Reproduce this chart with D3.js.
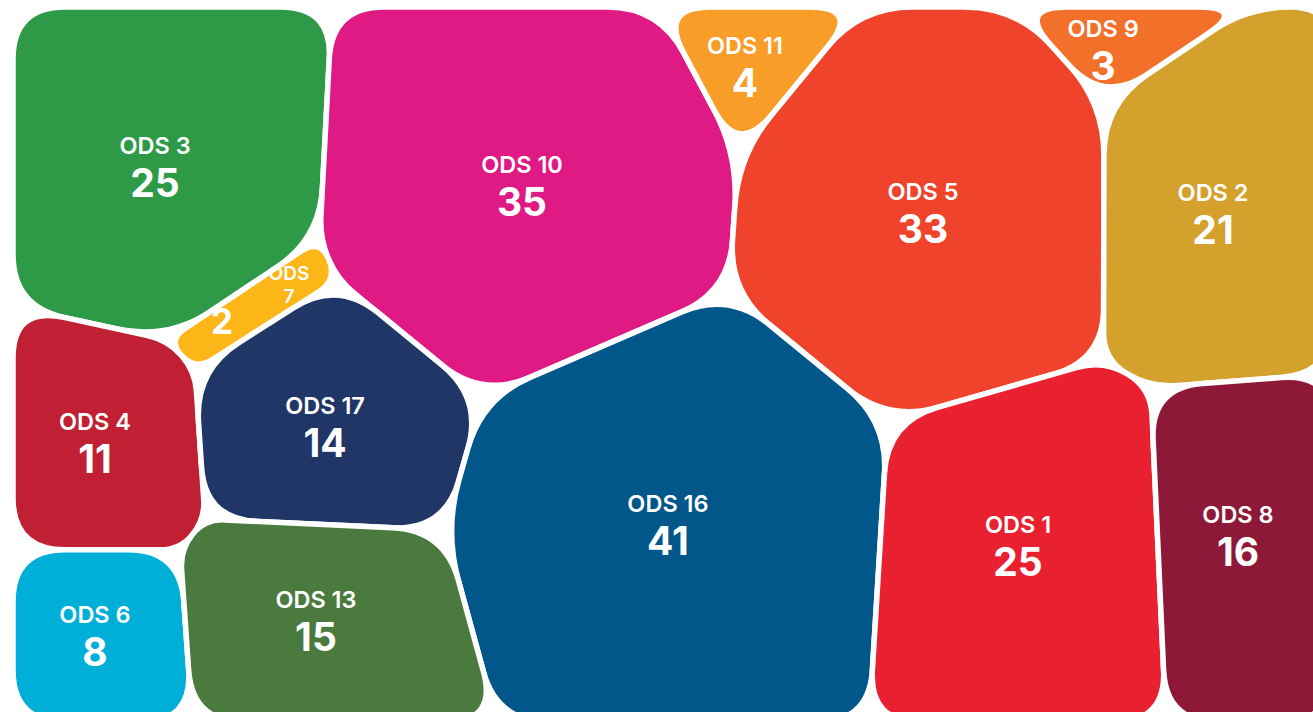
<!DOCTYPE html>
<html>
<head>
<meta charset="utf-8">
<script src="https://cdn.jsdelivr.net/npm/d3@7"></script>
<style>
html, body { margin: 0; padding: 0; background: #fff; }
svg { display: block; }
text { font-family: Inter, "Noto Sans", sans-serif; fill: #fff; text-anchor: middle; }
</style>
</head>
<body>
<svg id="chart" width="1313" height="712"></svg>
<script>
var goals  = ["ODS 3", "ODS 10", "ODS 11", "ODS 5", "ODS 9", "ODS 2", "ODS 7",
              "ODS 4", "ODS 17", "ODS 16", "ODS 1", "ODS 8", "ODS 6", "ODS 13"];
var counts = [25, 35, 4, 33, 3, 21, 2, 11, 14, 41, 25, 16, 8, 15];
var colors = ["#2e9a48", "#df1a84", "#f89d27", "#ef432b", "#f3702b", "#d4a12c", "#fdb618",
              "#c12034", "#203667", "#015789", "#e8202f", "#8e1838", "#00afd8", "#4b7a3e"];

// layout hints: where each cell's site (and its label) sits, as fractions of the drawing area
var seedX = [0.1076, 0.3856, 0.5545, 0.6894, 0.8258, 0.9091, 0.178, 0.0621, 0.2364, 0.4962, 0.7614, 0.9280, 0.0621, 0.2295];
var seedY = [0.2189, 0.2462, 0.0797, 0.2846, 0.0559, 0.2853, 0.414, 0.6049, 0.5832, 0.7196, 0.7497, 0.7357, 0.8762, 0.8545];

var svg = d3.select("#chart");
var x = d3.scaleLinear().domain([0, 1]).range([13, 1333]);
var y = d3.scaleLinear().domain([0, 1]).range([7, 722]);

var X = x.range(), Y = y.range();
var box = [[X[0], Y[0], -1], [X[1], Y[0], -1], [X[1], Y[1], -1], [X[0], Y[1], -1]];
var total = d3.sum(counts);
var boxArea = (X[1] - X[0]) * (Y[1] - Y[0]);
var target = counts.map(function(v) { return v / total * boxArea; });
var sites = seedX.map(function(s, i) { return [x(s), y(seedY[i])]; });

function dist(a, b) { return Math.hypot(a[0] - b[0], a[1] - b[1]); }

// keep the part of poly where a*px + b*py <= c; each vertex carries the id of the
// neighbour that owns the edge starting at it (-1 for the outer box)
function clip(poly, a, b, c, id) {
    var out = [];
    for (var k = 0; k < poly.length; k++) {
        var P = poly[k], Q = poly[(k + 1) % poly.length];
        var fp = a * P[0] + b * P[1] - c, fq = a * Q[0] + b * Q[1] - c;
        if (fp <= 0) out.push(P);
        if ((fp < 0 && fq > 0) || (fp > 0 && fq < 0)) {
            var t = fp / (fp - fq);
            out.push([P[0] + t * (Q[0] - P[0]), P[1] + t * (Q[1] - P[1]), fp < 0 ? id : P[2]]);
        }
    }
    return out;
}

// power diagram of the weighted sites, clipped to the box
function powerCells(weights) {
    return sites.map(function(p, i) {
        var poly = box;
        sites.forEach(function(q, j) {
            if (i === j || poly.length === 0) return;
            poly = clip(poly, 2 * (q[0] - p[0]), 2 * (q[1] - p[1]),
                q[0] * q[0] + q[1] * q[1] - p[0] * p[0] - p[1] * p[1] - weights[j] + weights[i], j);
        });
        return poly;
    });
}

// tune the weights until every cell gets the area of its value
var weights = counts.map(function() { return 0; });
var cells;
for (var it = 0; it < 1500; it++) {
    cells = powerCells(weights);
    cells.forEach(function(poly, i) {
        if (poly.length < 3) { weights[i] += 500; return; }
        var area = Math.abs(d3.polygonArea(poly)), slope = 0;
        poly.forEach(function(v, k) {
            if (v[2] < 0) return;
            slope += dist(v, poly[(k + 1) % poly.length]) / (2 * dist(sites[i], sites[v[2]]));
        });
        if (slope > 0) weights[i] += 0.5 * (target[i] - area) / slope;
    });
}
cells = powerCells(weights);

// merge very short edges so every corner can be rounded
function tidy(poly) {
    var pts = poly.map(function(p) { return [p[0], p[1]]; });
    var changed = true;
    while (changed && pts.length > 3) {
        changed = false;
        for (var k = 0; k < pts.length; k++) {
            var a = pts[k], b = pts[(k + 1) % pts.length];
            if (dist(a, b) < 14) {
                pts[k] = [(a[0] + b[0]) / 2, (a[1] + b[1]) / 2];
                pts.splice((k + 1) % pts.length, 1);
                changed = true;
                break;
            }
        }
    }
    return pts;
}

function roundedPath(poly, maxD) {
    var pts = tidy(poly), n = pts.length, path = d3.path();
    pts.forEach(function(V, k) {
        var P = pts[(k - 1 + n) % n], N = pts[(k + 1) % n];
        var l1 = dist(P, V), l2 = dist(V, N);
        var d = Math.min(maxD, l1 / 2, l2 / 2);
        var ax = V[0] + (P[0] - V[0]) * d / l1, ay = V[1] + (P[1] - V[1]) * d / l1;
        if (k === 0) path.moveTo(ax, ay); else path.lineTo(ax, ay);
        path.quadraticCurveTo(V[0], V[1], V[0] + (N[0] - V[0]) * d / l2, V[1] + (N[1] - V[1]) * d / l2);
    });
    path.closePath();
    return path.toString();
}

var nodes = goals.map(function(g, i) {
    return { name: g, value: counts[i], color: colors[i], site: sites[i],
             poly: cells[i].map(function(p) { return [p[0], p[1]]; }) };
});

svg.selectAll("path.cell")
    .data(nodes)
    .enter().append("path")
    .attr("class", "cell")
    .attr("d", function(d) { return d.poly.length > 2 ? roundedPath(d.poly, 52) : null; })
    .attr("fill", function(d) { return d.color; })
    .attr("stroke", "#fff")
    .attr("stroke-width", 5.5)
    .attr("stroke-linejoin", "round");

var smallest = d3.min(counts);
var labels = svg.selectAll("g.label")
    .data(nodes)
    .enter().append("g")
    .attr("class", "label")
    .attr("transform", function(d) { return "translate(" + d.site[0] + "," + d.site[1] + ")"; });

labels.each(function(d) {
    var g = d3.select(this);
    if (d.value === smallest) {
        // cramped cell: name wraps to the upper right, value to the lower left
        var words = d.name.split(" ");
        g.selectAll("text.name").data(words).enter().append("text")
            .attr("class", "name")
            .attr("x", 41).attr("y", function(w, k) { return -23 + k * 23; })
            .attr("font-size", 19).attr("font-weight", 600)
            .text(function(w) { return w; });
        g.append("text").attr("x", -26).attr("y", 31)
            .attr("font-size", 35).attr("font-weight", 700)
            .text(d.value);
    } else {
        g.append("text").attr("y", -10)
            .attr("font-size", 23.5).attr("font-weight", 600)
            .text(d.name);
        g.append("text").attr("y", 33)
            .attr("font-size", 39).attr("font-weight", 700)
            .text(d.value);
    }
});
</script>
</body>
</html>
